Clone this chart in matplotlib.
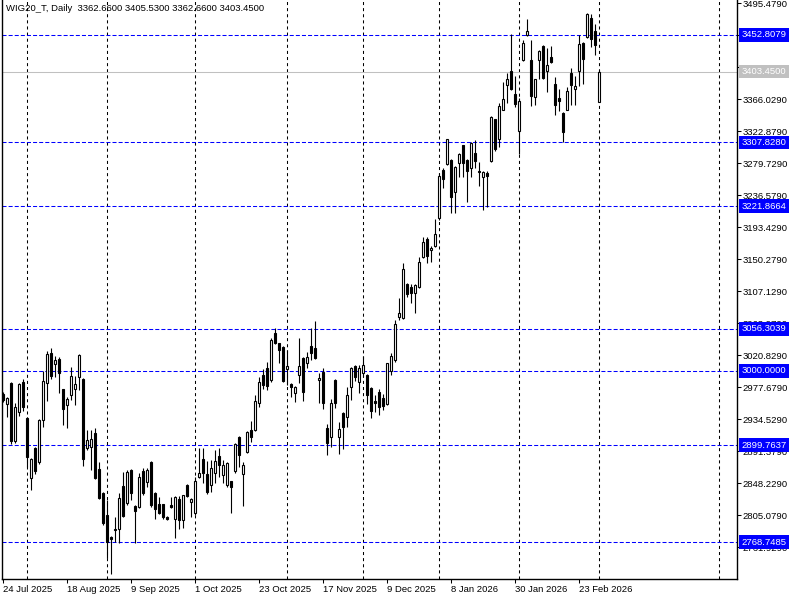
import matplotlib
matplotlib.use("Agg")
import matplotlib.pyplot as plt

plt.rcParams['font.family'] = ['Liberation Sans', 'DejaVu Sans']
plt.rcParams['lines.scale_dashes'] = False

# daily OHLC, WIG20_T, 24 Jul 2025 .. 2 Mar 2026
opens = [2969, 2955, 2983, 2905, 2944, 2985, 2936, 2855, 2896, 2877,
         2934, 2983, 3024, 3009, 3016, 2975, 2954, 2967, 2975, 2992,
         2989, 2896, 2897, 2916, 2868, 2835, 2805, 2776, 2785, 2787,
         2845, 2822, 2866, 2818, 2816, 2865, 2850, 2877, 2835, 2820,
         2820, 2803, 2819, 2800, 2827, 2799, 2846, 2823, 2808, 2857,
         2881, 2861, 2846, 2862, 2885, 2859, 2846, 2851, 2865, 2911,
         2861, 2890, 2920, 2920, 2957, 2994, 3004, 2988, 3051, 3037,
         3032, 3002, 2982, 2970, 2994, 3017, 3010, 3033, 3031, 2988,
         2998, 2923, 2911, 2988, 2911, 2943, 2938, 2978, 3006, 2985,
         2997, 2994, 2977, 2959, 2971, 2963, 2955, 3000, 3015, 3072,
         3071, 3117, 3113, 3105, 3113, 3153, 3178, 3163, 3168, 3206,
         3271, 3279, 3284, 3241, 3280, 3304, 3284, 3273, 3294, 3269,
         3261, 3267, 3283, 3339, 3313, 3352, 3385, 3404, 3373, 3323,
         3419, 3453, 3419, 3369, 3419, 3438, 3404, 3423, 3387, 3368,
         3348, 3352, 3401, 3380, 3404, 3442, 3450, 3476, 3458, 3362.66]
highs = [2971, 2965, 2985, 2957, 2983, 2989, 2938, 2882, 2897, 2935,
         3000, 3027, 3031, 3020, 3019, 2975, 2965, 3005, 2993, 3023,
         2990, 2920, 2920, 2923, 2877, 2837, 2826, 2777, 2803, 2835,
         2863, 2866, 2868, 2819, 2862, 2869, 2869, 2878, 2836, 2830,
         2821, 2804, 2830, 2831, 2831, 2833, 2847, 2828, 2857, 2896,
         2896, 2878, 2880, 2893, 2896, 2880, 2877, 2852, 2903, 2912,
         2877, 2919, 2932, 2967, 2992, 3002, 3012, 3044, 3058, 3038,
         3033, 3028, 2983, 2979, 3044, 3019, 3025, 3058, 3067, 2997,
         3004, 2928, 2962, 2989, 2931, 2944, 2978, 3005, 3008, 3008,
         3020, 2995, 2978, 2967, 2975, 2969, 3011, 3024, 3068, 3098,
         3145, 3118, 3117, 3117, 3153, 3180, 3180, 3168, 3205, 3267,
         3273, 3313, 3286, 3276, 3293, 3305, 3286, 3308, 3311, 3282,
         3269, 3269, 3343, 3340, 3361, 3389, 3401, 3454, 3397, 3368,
         3446, 3474, 3446, 3394, 3432, 3439, 3435, 3438, 3396, 3380,
         3349, 3383, 3408, 3397, 3453, 3443, 3482, 3481, 3468, 3405.53]
lows = [2958, 2938, 2901, 2903, 2939, 2946, 2870, 2839, 2861, 2874,
        2924, 2959, 2989, 2992, 2970, 2927, 2923, 2961, 2954, 2974,
        2872, 2893, 2866, 2854, 2827, 2792, 2747, 2726, 2769, 2768,
        2803, 2819, 2826, 2768, 2815, 2832, 2843, 2816, 2800, 2807,
        2800, 2799, 2815, 2774, 2787, 2788, 2830, 2803, 2805, 2856,
        2849, 2834, 2836, 2849, 2857, 2849, 2843, 2808, 2862, 2870,
        2818, 2889, 2904, 2919, 2951, 2975, 2974, 2985, 3036, 3010,
        2985, 2981, 2965, 2958, 2983, 2959, 3004, 3015, 3016, 2957,
        2948, 2886, 2897, 2950, 2888, 2895, 2924, 2961, 2986, 2970,
        2992, 2955, 2936, 2944, 2940, 2947, 2954, 2994, 3012, 3068,
        3070, 3099, 3091, 3078, 3112, 3152, 3145, 3147, 3167, 3203,
        3246, 3277, 3213, 3213, 3261, 3261, 3228, 3261, 3273, 3249,
        3217, 3221, 3282, 3296, 3302, 3351, 3361, 3379, 3356, 3292,
        3418, 3451, 3357, 3358, 3393, 3394, 3376, 3415, 3345, 3350,
        3308, 3351, 3358, 3358, 3384, 3387, 3449, 3437, 3426, 3362.66]
closes = [2961, 2963, 2905, 2951, 2982, 2951, 2884, 2881, 2865, 2934,
          2986, 3023, 2993, 3015, 2997, 2948, 2962, 2993, 2982, 3021,
          2881, 2907, 2908, 2855, 2828, 2795, 2769, 2773, 2787, 2828,
          2804, 2863, 2835, 2811, 2857, 2835, 2866, 2819, 2814, 2808,
          2803, 2800, 2816, 2830, 2799, 2832, 2831, 2827, 2851, 2862,
          2862, 2836, 2869, 2878, 2873, 2873, 2876, 2843, 2901, 2886,
          2873, 2917, 2911, 2959, 2985, 2981, 2979, 3041, 3037, 3028,
          2986, 3006, 2978, 2978, 3006, 2971, 3019, 3024, 3017, 2990,
          2957, 2903, 2957, 2957, 2921, 2924, 2967, 3004, 2992, 3004,
          3008, 2967, 2946, 2957, 2951, 2952, 3010, 3020, 3063, 3078,
          3137, 3103, 3105, 3116, 3147, 3174, 3155, 3165, 3184, 3263,
          3259, 3312, 3234, 3275, 3292, 3280, 3269, 3307, 3283, 3268,
          3268, 3263, 3342, 3299, 3357, 3366, 3393, 3380, 3360, 3364,
          3442, 3458, 3370, 3393, 3431, 3395, 3412, 3416, 3358, 3364,
          3322, 3377, 3385, 3384, 3441, 3420, 3481, 3447, 3439, 3403.45]

levels = [3452.8079, 3307.8280, 3221.8664, 3056.3039, 3000.0000, 2899.7637, 2768.7485]
last_price = 3403.45
ytick_vals = [3495.479, 3452.329, 3409.179, 3366.029, 3322.879, 3279.729,
              3236.579, 3193.429, 3150.279, 3107.129, 3063.979, 3020.829,
              2977.679, 2934.529, 2891.379, 2848.229, 2805.079, 2761.929]
date_pos = [0, 16, 32, 48, 64, 80, 96, 112, 128, 144]
date_labels = ['24 Jul 2025', '18 Aug 2025', '9 Sep 2025', '1 Oct 2025',
               '23 Oct 2025', '17 Nov 2025', '9 Dec 2025', '8 Jan 2026',
               '30 Jan 2026', '23 Feb 2026']
month_starts = [6, 26, 48, 71, 90, 109, 129, 149, 179]

fig = plt.figure(figsize=(8, 6), dpi=100)
ax = fig.add_axes([2 / 800, 21 / 600, 735 / 800, 579 / 600])
ax.set_xlim(-0.175, 183.6)
ax.set_ylim(2719.2, 3499.93)

for m in month_starts:
    ax.axvline(m, color='black', lw=0.75, linestyle=(0, (2.2, 2.2)), zorder=1)

for lv in levels:
    ax.axhline(lv, color='#0000FF', lw=0.75, linestyle=(0, (2.9, 1.5)), zorder=1)
ax.axhline(last_price, color='#C0C0C0', lw=0.75, zorder=1)

# candles
for i in range(len(opens)):
    o, h, l, c = opens[i], highs[i], lows[i], closes[i]
    ax.vlines(i, l, h, color='black', lw=0.8, zorder=2)
    bull = c >= o
    ax.bar(i, c - o, bottom=o, width=0.55,
           color='white' if bull else 'black', edgecolor='black',
           linewidth=0.8, zorder=3)

# axes look
ax.spines['top'].set_visible(False)
for s in ['left', 'right', 'bottom']:
    ax.spines[s].set_linewidth(1.0)

ax.yaxis.tick_right()
ax.set_yticks(ytick_vals)
ax.set_yticklabels(['%.4f' % v for v in ytick_vals])
ax.tick_params(axis='y', direction='out', length=3, width=0.75, pad=1,
               labelsize=6.8, colors='black')
ax.set_xticks(date_pos)
ax.set_xticklabels(date_labels, ha='left')
ax.tick_params(axis='x', direction='out', length=3, width=0.75, pad=1.5,
               labelsize=6.8)

ytr = ax.get_yaxis_transform()
for lv in levels:
    ax.text(1.0065, lv, '%.4f' % lv, transform=ytr, color='white',
            fontsize=6.8, va='center', ha='left', clip_on=False, zorder=10,
            bbox=dict(boxstyle='square,pad=0.25', fc='#0000FF', ec='none'))
ax.text(1.0065, last_price, '%.4f' % last_price, transform=ytr, color='white',
        fontsize=6.8, va='center', ha='left', clip_on=False, zorder=10,
        bbox=dict(boxstyle='square,pad=0.25', fc='#C0C0C0', ec='none'))

ax.text(0.006, 0.986, 'WIG20_T, Daily  3362.6600 3405.5300 3362.6600 3403.4500',
        transform=ax.transAxes, fontsize=6.8, va='center', ha='left', zorder=10)

fig.savefig('out.png', dpi=100)
